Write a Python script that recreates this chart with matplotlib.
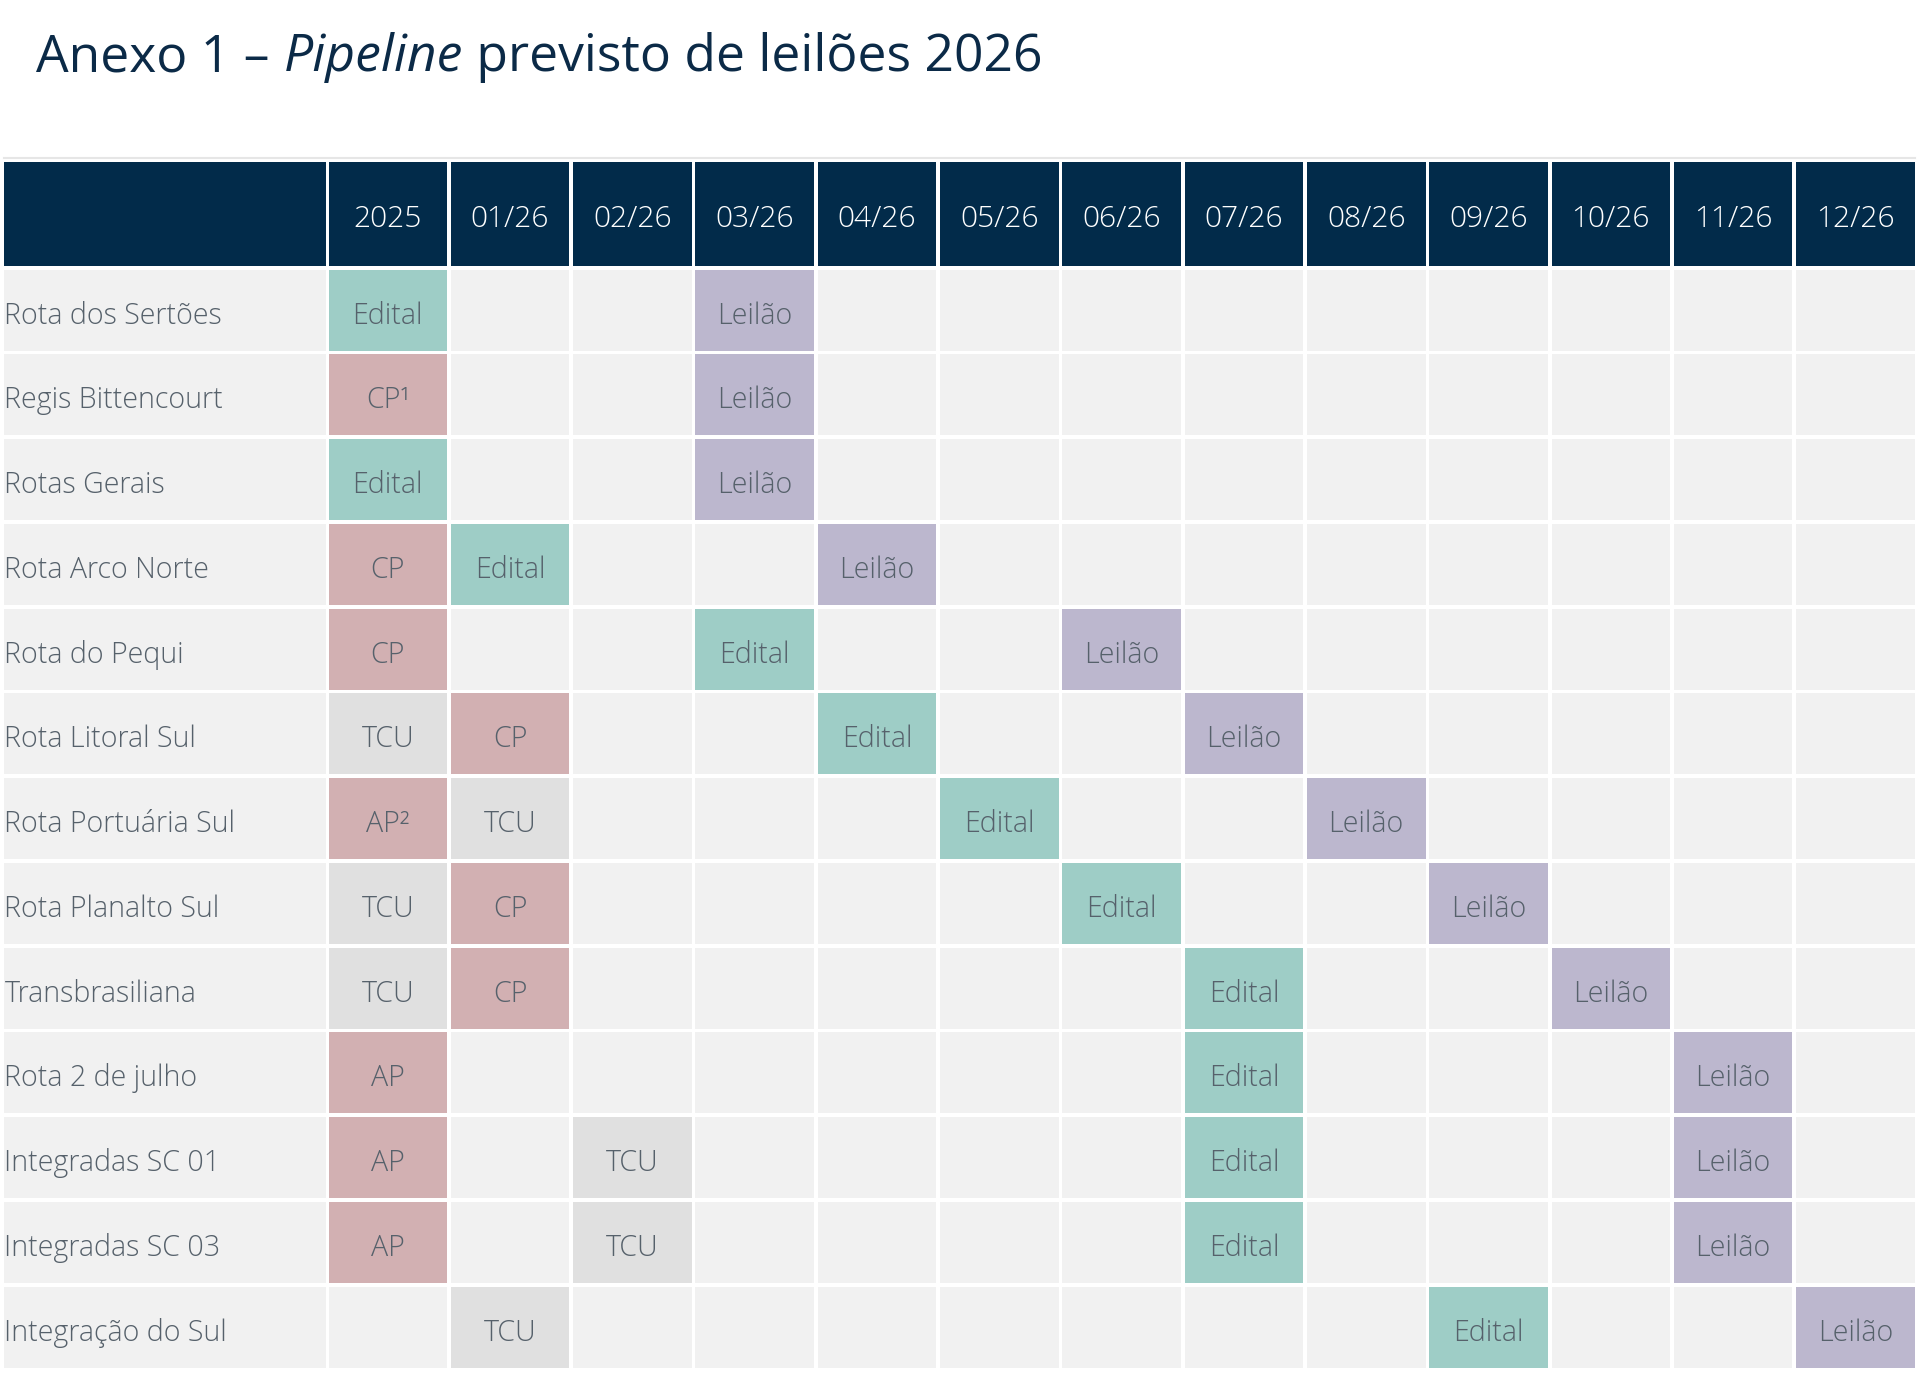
import matplotlib
matplotlib.use("Agg")
import matplotlib.pyplot as plt
from matplotlib.patches import Rectangle

# ---- data ----
title_parts = ["Anexo 1 \u2013 ", "Pipeline", " previsto de leilões 2026"]
periods = ["2025", "01/26", "02/26", "03/26", "04/26", "05/26", "06/26",
           "07/26", "08/26", "09/26", "10/26", "11/26", "12/26"]
projects = ["Rota dos Sertões", "Regis Bittencourt", "Rotas Gerais", "Rota Arco Norte",
            "Rota do Pequi", "Rota Litoral Sul", "Rota Portuária Sul", "Rota Planalto Sul",
            "Transbrasiliana", "Rota 2 de julho", "Integradas SC 01", "Integradas SC 03",
            "Integração do Sul"]
# one entry per period column, "" = nothing planned
schedule = [
    ["Edital", "", "", "Leilão", "", "", "", "", "", "", "", "", ""],
    ["CP¹", "", "", "Leilão", "", "", "", "", "", "", "", "", ""],
    ["Edital", "", "", "Leilão", "", "", "", "", "", "", "", "", ""],
    ["CP", "Edital", "", "", "Leilão", "", "", "", "", "", "", "", ""],
    ["CP", "", "", "Edital", "", "", "Leilão", "", "", "", "", "", ""],
    ["TCU", "CP", "", "", "Edital", "", "", "Leilão", "", "", "", "", ""],
    ["AP²", "TCU", "", "", "", "Edital", "", "", "Leilão", "", "", "", ""],
    ["TCU", "CP", "", "", "", "", "Edital", "", "", "Leilão", "", "", ""],
    ["TCU", "CP", "", "", "", "", "", "Edital", "", "", "Leilão", "", ""],
    ["AP", "", "", "", "", "", "", "Edital", "", "", "", "Leilão", ""],
    ["AP", "", "TCU", "", "", "", "", "Edital", "", "", "", "Leilão", ""],
    ["AP", "", "TCU", "", "", "", "", "Edital", "", "", "", "Leilão", ""],
    ["", "TCU", "", "", "", "", "", "", "", "Edital", "", "", "Leilão"],
]

# ---- style ----
NAVY = "#022b4a"
TITLE_C = "#0b2a47"
TEXT_C = "#56616b"
EMPTY = "#f1f1f1"
fills = {"Edital": "#9ecdc6", "Leilão": "#bcb7ce", "CP": "#d2b0b2",
         "AP": "#d2b0b2", "TCU": "#e0e0e0"}
FONT = "Open Sans"

W, H = 1920, 1374
# layout in pixels (top-left origin)
lab_x0, lab_x1 = 4, 326
col_x0, col_pitch, col_w = 328.5, 122.3, 118.6
head_y0, head_y1 = 161.5, 265.5
row_y0, row_pitch, row_h = 269.5, 84.75, 81.0

PX = 100 / 72.0  # px per pt at dpi 100
CAP = 0.714      # cap height / em


def base_y(center, size_pt):
    return center + CAP * size_pt * PX / 2


fig = plt.figure(figsize=(W / 100, H / 100), dpi=100)
ax = fig.add_axes([0, 0, 1, 1])
ax.set_xlim(0, W)
ax.set_ylim(H, 0)
ax.axis("off")

# title in three pieces (middle one italic)
title_size = 37.2
renderer = fig.canvas.get_renderer()
x = 36.5
for i, part in enumerate(title_parts):
    t = ax.text(x, 71, part, fontsize=title_size, family=FONT, color=TITLE_C,
                style="italic" if i == 1 else "normal", va="baseline", ha="left")
    bb = t.get_window_extent(renderer=renderer)
    x += bb.width

# faint line above the header
ax.plot([lab_x0, col_x0 + 12 * col_pitch + col_w], [157.5, 157.5], color="#e6e6e6", lw=1.5)

# header
head_size = 21.6
ax.add_patch(Rectangle((lab_x0, head_y0), lab_x1 - lab_x0, head_y1 - head_y0, color=NAVY, lw=0))
for j, p in enumerate(periods):
    cx = col_x0 + j * col_pitch
    ax.add_patch(Rectangle((cx, head_y0), col_w, head_y1 - head_y0, color=NAVY, lw=0))
    ax.text(cx + col_w / 2, base_y(215.8, head_size), p, fontsize=head_size, family=FONT,
            weight=300, color="white", ha="center", va="baseline")

# body
cell_size = 20.6
for i, name in enumerate(projects):
    ry = row_y0 + i * row_pitch
    cy = ry + row_h / 2 + 3.5
    ax.add_patch(Rectangle((lab_x0, ry), lab_x1 - lab_x0, row_h, color=EMPTY, lw=0))
    ax.text(lab_x0 + 0.5, base_y(cy, cell_size), name, fontsize=cell_size, family=FONT,
            weight=300, color=TEXT_C, ha="left", va="baseline")
    for j, val in enumerate(schedule[i]):
        cx = col_x0 + j * col_pitch
        key = val.rstrip("¹²")
        ax.add_patch(Rectangle((cx, ry), col_w, row_h, color=fills.get(key, EMPTY), lw=0))
        if val:
            ax.text(cx + col_w / 2, base_y(cy, cell_size), val, fontsize=cell_size,
                    family=FONT, weight=300, color=TEXT_C, ha="center", va="baseline")

fig.savefig("out.png", dpi=100, facecolor="white")
